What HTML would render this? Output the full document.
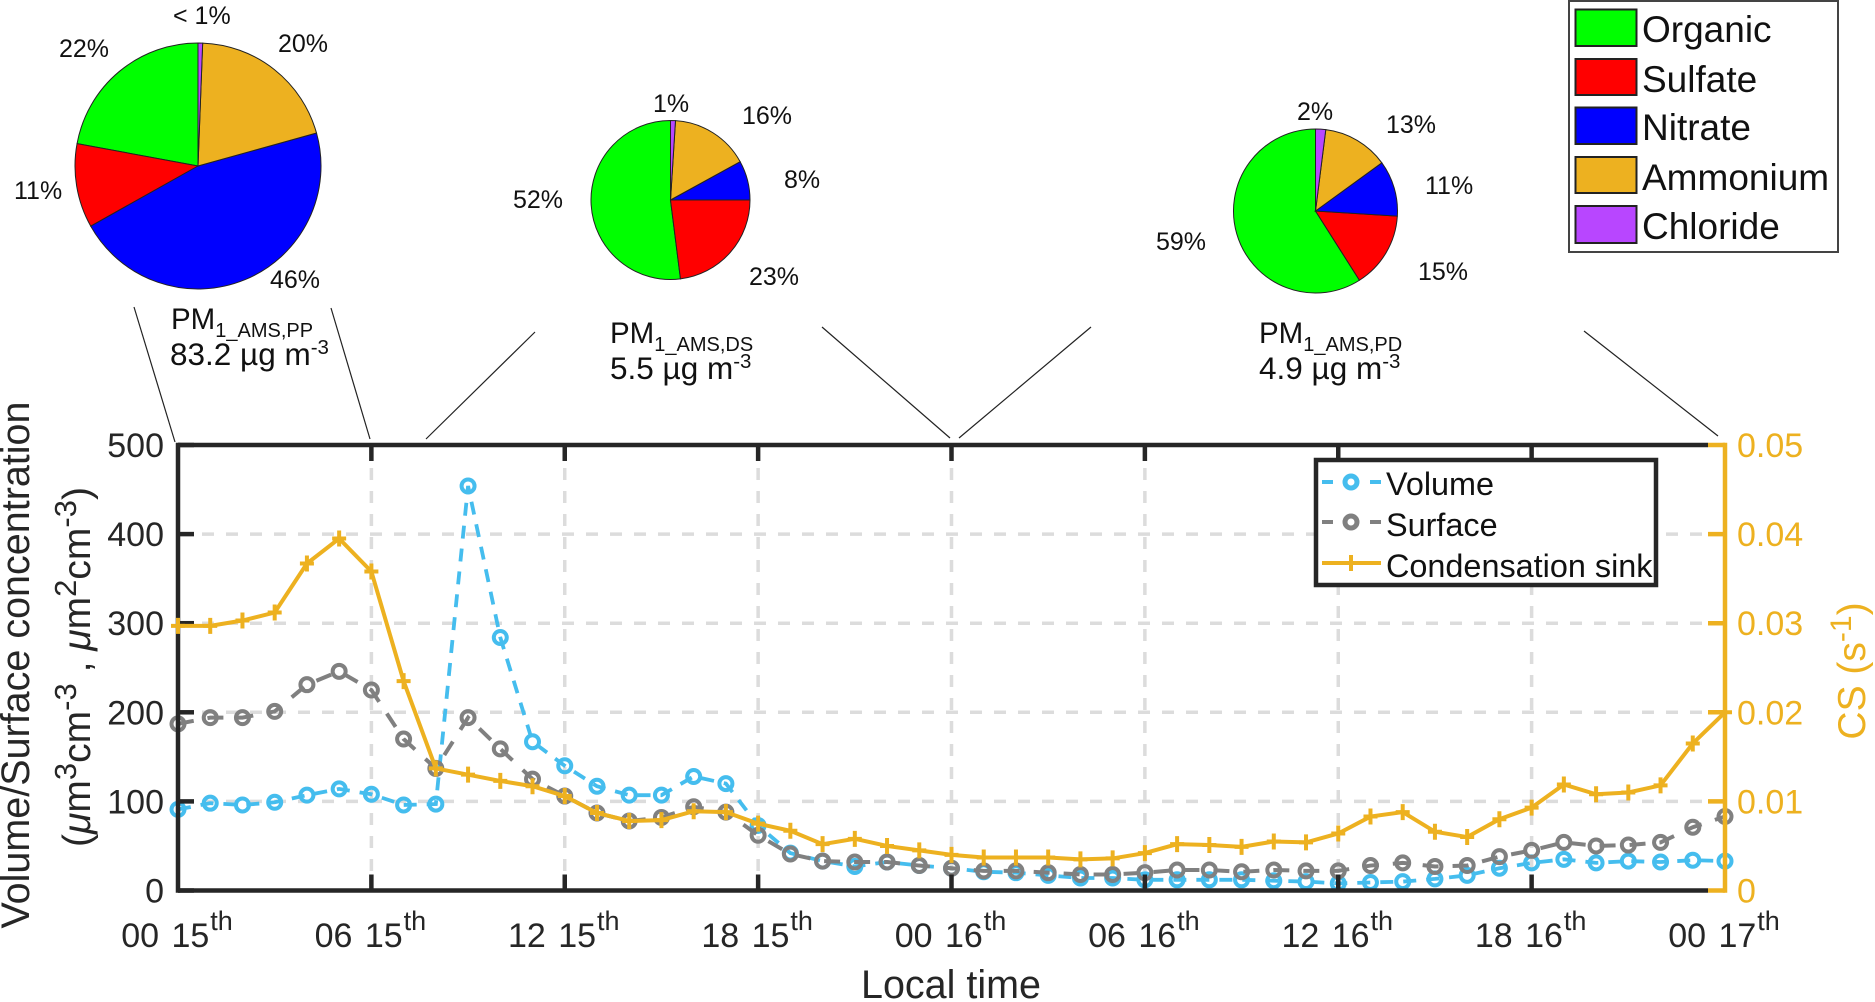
<!DOCTYPE html>
<html lang="en">
<head>
<meta charset="utf-8">
<title>Volume, surface concentration and condensation sink with PM1 composition</title>
<style>
html,body{margin:0;padding:0;background:#fff;}
svg{display:block;font-family:"Liberation Sans",Arial,sans-serif;}
.pct{font-size:25px;fill:#111;}
.pm{font-size:29.5px;fill:#111;}
.pm-sub{font-size:20px;}
.conc{font-size:31.5px;fill:#111;}
.conc-sup{font-size:20.5px;}
.leg{font-size:37px;fill:#111;}
.leg2{font-size:32.4px;fill:#111;}
</style>
</head>
<body>
<svg id="chart" xmlns="http://www.w3.org/2000/svg" width="1875" height="1002" viewBox="0 0 1875 1002">
  <rect x="0" y="0" width="1875" height="1002" fill="#fff"/>

  <g id="pies"></g>

  <g>
    <text class="pct" x="173" y="24">&lt; 1%</text>
    <text class="pct" x="59" y="57">22%</text>
    <text class="pct" x="278" y="52">20%</text>
    <text class="pct" x="14" y="199">11%</text>
    <text class="pct" x="270" y="288">46%</text>
    <text class="pm" x="171" y="329">PM<tspan class="pm-sub" dy="8">1_AMS,PP</tspan></text>
    <text class="conc" x="170" y="365">83.2 µg m<tspan class="conc-sup" dy="-11">-3</tspan></text>
  </g>
  <g>
    <text class="pct" x="653" y="112">1%</text>
    <text class="pct" x="742" y="124">16%</text>
    <text class="pct" x="784" y="188">8%</text>
    <text class="pct" x="749" y="285">23%</text>
    <text class="pct" x="513" y="208">52%</text>
    <text class="pm" x="610" y="343">PM<tspan class="pm-sub" dy="8">1_AMS,DS</tspan></text>
    <text class="conc" x="610" y="379">5.5 µg m<tspan class="conc-sup" dy="-11">-3</tspan></text>
  </g>
  <g>
    <text class="pct" x="1297" y="120">2%</text>
    <text class="pct" x="1386" y="133">13%</text>
    <text class="pct" x="1425" y="194">11%</text>
    <text class="pct" x="1418" y="280">15%</text>
    <text class="pct" x="1156" y="250">59%</text>
    <text class="pm" x="1259" y="343">PM<tspan class="pm-sub" dy="8">1_AMS,PD</tspan></text>
    <text class="conc" x="1259" y="379">4.9 µg m<tspan class="conc-sup" dy="-11">-3</tspan></text>
  </g>

  <g stroke="#222" stroke-width="1.2" fill="none">
    <line x1="134" y1="307" x2="175" y2="442"/>
    <line x1="331" y1="308" x2="370" y2="439"/>
    <line x1="535" y1="332" x2="426" y2="439"/>
    <line x1="822" y1="327" x2="950" y2="438"/>
    <line x1="1091" y1="327" x2="959" y2="438"/>
    <line x1="1584" y1="331" x2="1718" y2="436"/>
  </g>

  <g>
    <rect x="1569" y="1" width="269" height="251" fill="#fff" stroke="#444" stroke-width="2"/>
    <rect x="1575.5" y="9.5" width="61" height="36.5" fill="#00ff00" stroke="#222" stroke-width="2"/>
    <text class="leg" x="1642" y="42">Organic</text>
    <rect x="1575.5" y="59" width="61" height="36" fill="#ff0000" stroke="#222" stroke-width="2"/>
    <text class="leg" x="1642" y="92">Sulfate</text>
    <rect x="1575.5" y="107.5" width="61" height="36.5" fill="#0000ff" stroke="#222" stroke-width="2"/>
    <text class="leg" x="1642" y="140">Nitrate</text>
    <rect x="1575.5" y="157" width="61" height="36" fill="#edb120" stroke="#222" stroke-width="2"/>
    <text class="leg" x="1642" y="190">Ammonium</text>
    <rect x="1575.5" y="206" width="61" height="37" fill="#b846ff" stroke="#222" stroke-width="2"/>
    <text class="leg" x="1642" y="239">Chloride</text>
  </g>

  <g id="grid"></g>
  <g id="series"></g>
  <g id="axes"></g>
  <g id="series-top"></g>

  <text x="951" y="998" font-size="39.5" fill="#262626" text-anchor="middle">Local time</text>
  <text transform="translate(29,665) rotate(-90)" font-size="39.5" fill="#262626" text-anchor="middle">Volume/Surface concentration</text>
  <text transform="translate(90,667) rotate(-90)" font-size="39" fill="#262626" text-anchor="middle">(<tspan font-style="italic">μ</tspan>m<tspan font-size="31" dy="-14">3</tspan><tspan dy="14">cm</tspan><tspan font-size="31" dy="-14">-3</tspan><tspan dy="14"> , </tspan><tspan font-style="italic">μ</tspan>m<tspan font-size="31" dy="-14">2</tspan><tspan dy="14">cm</tspan><tspan font-size="31" dy="-14">-3</tspan><tspan dy="14">)</tspan></text>
  <text transform="translate(1865,671) rotate(-90)" font-size="39" fill="#edb120" text-anchor="middle">CS (s<tspan font-size="30" dy="-14">-1</tspan><tspan dy="14">)</tspan></text>

  <g>
    <rect x="1316" y="460" width="340" height="125" fill="#fff" stroke="#262626" stroke-width="4.5"/>
    <line x1="1322" y1="482" x2="1381" y2="482" stroke="#45bdee" stroke-width="4" stroke-dasharray="11 37 11"/>
    <circle cx="1351" cy="482" r="6" fill="none" stroke="#45bdee" stroke-width="5"/>
    <text class="leg2" x="1386" y="495">Volume</text>
    <line x1="1322" y1="522" x2="1381" y2="522" stroke="#808080" stroke-width="4" stroke-dasharray="11 37 11"/>
    <circle cx="1351" cy="522" r="6" fill="none" stroke="#808080" stroke-width="5"/>
    <text class="leg2" x="1386" y="536">Surface</text>
    <line x1="1322" y1="563" x2="1381" y2="563" stroke="#edb120" stroke-width="4"/>
    <line x1="1351" y1="555" x2="1351" y2="571" stroke="#edb120" stroke-width="4"/>
    <text class="leg2" x="1386" y="577">Condensation sink</text>
  </g>
</svg>

<script>
// ---- data ----
const pieCategories = ['organic', 'sulfate', 'nitrate', 'ammonium', 'chloride'];
const pieColors = ['#00ff00', '#ff0000', '#0000ff', '#edb120', '#b846ff'];
const piePP = [22, 11, 46, 20, 0.6];
const pieDS = [52, 23, 8, 16, 1];
const piePD = [59, 15, 11, 13, 2];

const hours = [0,1,2,3,4,5,6,7,8,9,10,11,12,13,14,15,16,17,18,19,20,21,22,23,24,25,26,27,28,29,30,31,32,33,34,35,36,37,38,39,40,41,42,43,44,45,46,47,48];
const volume = [91,98,96,99,107,114,108,96,97,454,284,167,140,117,107,107,128,120,73,42,33,27,32,28,25,21,20,17,14,14,12,12,12,12,11,10,8,9,10,13,17,25,31,35,31,33,32,34,33];
const surface = [187,194,194,201,231,246,225,170,137,194,159,125,106,87,78,82,94,88,62,41,33,32,32,28,25,22,22,20,18,18,20,23,23,21,23,22,22,28,31,27,28,38,45,54,50,51,54,71,83];
const condensationSink = [0.0297,0.0297,0.0303,0.0312,0.0367,0.0395,0.0358,0.0235,0.0137,0.0130,0.0123,0.0117,0.0106,0.0087,0.0078,0.0079,0.0089,0.0088,0.0075,0.0067,0.0052,0.0058,0.0050,0.0045,0.0040,0.0037,0.0037,0.0037,0.0035,0.0036,0.0042,0.0052,0.0051,0.0049,0.0055,0.0054,0.0064,0.0083,0.0088,0.0066,0.0060,0.0080,0.0093,0.0119,0.0108,0.0110,0.0118,0.0165,0.0200];

const xTickHours = [0, 6, 12, 18, 24, 30, 36, 42, 48];
const xTickClock = ['00', '06', '12', '18', '00', '06', '12', '18', '00'];
const xTickDay = ['15', '15', '15', '15', '16', '16', '16', '16', '17'];
const leftTicks = [0, 100, 200, 300, 400, 500];
const rightTicks = [0, 0.01, 0.02, 0.03, 0.04, 0.05];
const rightTickLabels = ['0', '0.01', '0.02', '0.03', '0.04', '0.05'];

// ---- axis functions ----
const plotLeft = 178, plotRight = 1725, plotTop = 445, plotBottom = 890.5;
const xMax = 48, leftMax = 500, rightMax = 0.05;
function xScale(h) { return plotLeft + (plotRight - plotLeft) * h / xMax; }
function yLeft(v) { return plotBottom - (plotBottom - plotTop) * v / leftMax; }
function yRight(v) { return plotBottom - (plotBottom - plotTop) * v / rightMax; }

const NS = 'http://www.w3.org/2000/svg';
function make(tag, parent) {
  const el = document.createElementNS(NS, tag);
  parent.appendChild(el);
  return el;
}
function seg(parent, x1, y1, x2, y2, color, width, dash) {
  const l = make('line', parent);
  l.setAttribute('x1', x1);
  l.setAttribute('y1', y1);
  l.setAttribute('x2', x2);
  l.setAttribute('y2', y2);
  l.setAttribute('stroke', color);
  l.setAttribute('stroke-width', width);
  if (dash) l.setAttribute('stroke-dasharray', dash);
  return l;
}

// ---- pies ----
const piesGroup = document.getElementById('pies');
function drawPie(values, cx, cy, r, pieName) {
  const total = values.reduce(function (a, b) { return a + b; }, 0);
  let angle = 0;
  values.forEach(function (v, i) {
    const next = angle + v / total * 2 * Math.PI;
    const x0 = cx - r * Math.sin(angle), y0 = cy - r * Math.cos(angle);
    const x1 = cx - r * Math.sin(next), y1 = cy - r * Math.cos(next);
    const large = next - angle > Math.PI ? 1 : 0;
    const p = make('path', piesGroup);
    
    
    p.setAttribute('d', 'M' + cx + ' ' + cy + 'L' + x0 + ' ' + y0 + 'A' + r + ' ' + r + ' 0 ' + large + ' 0 ' + x1 + ' ' + y1 + 'Z');
    p.setAttribute('fill', pieColors[i]);
    p.setAttribute('stroke', '#222');
    p.setAttribute('stroke-width', '1');
    angle = next;
  });
}
drawPie(piePP, 198, 166, 123, 'pie-pp');
drawPie(pieDS, 670.5, 200, 79.5, 'pie-ds');
drawPie(piePD, 1315.5, 211, 82, 'pie-pd');

// ---- grid ----
const gridGroup = document.getElementById('grid');
leftTicks.slice(1, -1).forEach(function (v) {
  const g = seg(gridGroup, plotLeft, yLeft(v), plotRight, yLeft(v), '#dcdcdc', 3.5, '12 12');
  
  
});
xTickHours.slice(1, -1).forEach(function (h) {
  const g = seg(gridGroup, xScale(h), plotTop, xScale(h), plotBottom, '#dcdcdc', 3.5, '12 11');
  
  
});

// ---- series ----
const seriesGroup = document.getElementById('series');
const seriesTopGroup = document.getElementById('series-top');
function pointsString(values, yFn) {
  return values.map(function (v, i) { return xScale(hours[i]) + ',' + yFn(v); }).join(' ');
}
function drawCircleSeries(values, color, dash, width, name) {
  const line = make('polyline', seriesGroup);
  
  
  line.setAttribute('points', pointsString(values, yLeft));
  line.setAttribute('fill', 'none');
  line.setAttribute('stroke', color);
  line.setAttribute('stroke-width', width);
  line.setAttribute('stroke-dasharray', dash);
  values.forEach(function (v, i) {
    const c = make('circle', seriesGroup);
    
    
    c.setAttribute('cx', xScale(hours[i]));
    c.setAttribute('cy', yLeft(v));
    c.setAttribute('r', '6.5');
    c.setAttribute('fill', 'none');
    c.setAttribute('stroke', color);
    c.setAttribute('stroke-width', '4');
  });
}
drawCircleSeries(volume, '#45bdee', '13 10', '3.8', 'volume');
drawCircleSeries(surface, '#808080', '16 14', '4', 'surface');

// ---- axes ----
const axesGroup = document.getElementById('axes');
const frameColor = '#262626';
const orange = '#edb120';

const topAxis = seg(axesGroup, plotLeft, plotTop, plotRight - 17, plotTop, frameColor, 4.5);


const bottomAxis = seg(axesGroup, plotLeft, plotBottom, plotRight - 17, plotBottom, frameColor, 4.5);


const leftAxis = seg(axesGroup, plotLeft, plotTop - 2.2, plotLeft, plotBottom + 2.2, frameColor, 4.5);


const rightAxis = seg(axesGroup, plotRight, plotTop - 2.2, plotRight, plotBottom + 2.2, orange, 4.5);



leftTicks.forEach(function (v) {
  const y = yLeft(v);
  const t = seg(axesGroup, plotLeft, y, plotLeft + 16, y, frameColor, 4.5);
  
  
  const label = make('text', axesGroup);
  
  
  label.setAttribute('x', 164);
  label.setAttribute('y', y + 12);
  label.setAttribute('text-anchor', 'end');
  label.setAttribute('font-size', '34');
  label.setAttribute('fill', frameColor);
  label.textContent = String(v);
});

rightTicks.forEach(function (v, i) {
  const y = yRight(v);
  const t = seg(axesGroup, plotRight - 17, y, plotRight, y, orange, 4.5);
  
  
  const label = make('text', axesGroup);
  
  
  label.setAttribute('x', 1737);
  label.setAttribute('y', y + 12);
  label.setAttribute('font-size', '34');
  label.setAttribute('fill', orange);
  label.textContent = rightTickLabels[i];
});

xTickHours.forEach(function (h, i) {
  const x = xScale(h);
  if (i > 0 && i < xTickHours.length - 1) {
    const tb = seg(axesGroup, x, plotBottom, x, plotBottom - 16, frameColor, 4.5);
    
    
    const tt = seg(axesGroup, x, plotTop, x, plotTop + 16, frameColor, 4.5);
    
    
  }
  const label = make('text', axesGroup);
  
  
  label.setAttribute('x', x - 1);
  label.setAttribute('y', 947);
  label.setAttribute('text-anchor', 'middle');
  label.setAttribute('font-size', '34');
  label.setAttribute('fill', frameColor);
  const clock = make('tspan', label);
  clock.textContent = xTickClock[i] + ' ';
  const day = make('tspan', label);
  day.setAttribute('dx', '3');
  day.textContent = xTickDay[i];
  const suffix = make('tspan', label);
  suffix.setAttribute('font-size', '27');
  suffix.setAttribute('dy', '-17');
  suffix.setAttribute('dx', '1');
  suffix.textContent = 'th';
});

// ---- condensation sink (right axis) ----
const csLine = make('polyline', seriesTopGroup);


csLine.setAttribute('points', pointsString(condensationSink, yRight));
csLine.setAttribute('fill', 'none');
csLine.setAttribute('stroke', orange);
csLine.setAttribute('stroke-width', '4');
condensationSink.forEach(function (v, i) {
  const cx = xScale(hours[i]);
  const cy = yRight(v);
  const mark = make('path', seriesTopGroup);
  
  
  mark.setAttribute('d', 'M' + (cx - 7) + ' ' + cy + 'H' + (cx + 7) + 'M' + cx + ' ' + (cy - 8) + 'V' + (cy + 8));
  mark.setAttribute('fill', 'none');
  mark.setAttribute('stroke', orange);
  mark.setAttribute('stroke-width', '4');
});
</script>
</body>
</html>
